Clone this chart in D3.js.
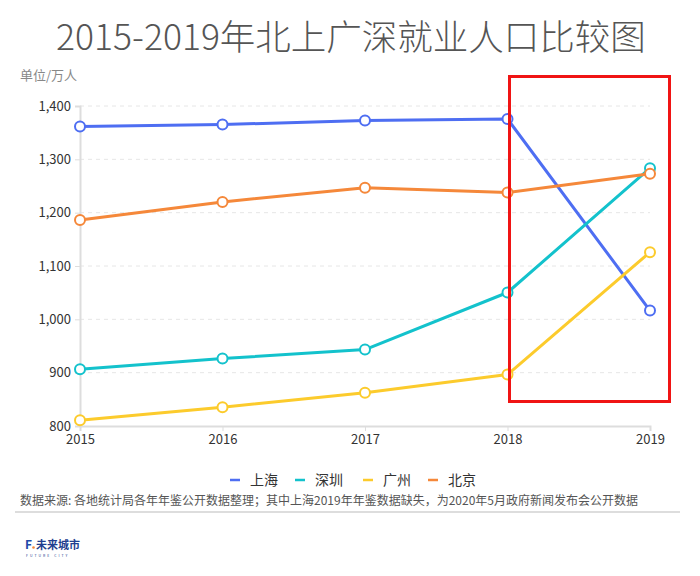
<!DOCTYPE html>
<html><head><meta charset="utf-8">
<script src="https://cdn.jsdelivr.net/npm/d3@7"></script>
<style>
body{margin:0;background:#fff;}
svg{display:block;font-family:"Noto Sans CJK SC","Noto Sans",sans-serif;}
</style></head>
<body>
<svg id="c" width="700" height="576"></svg>
<script>
const years = ["2015","2016","2017","2018","2019"];
const shanghai = [1361.5, 1365.2, 1372.7, 1375.7, 1016.4];
const shenzhen = [906.4, 926.4, 943.3, 1050.3, 1283.4];
const guangzhou = [811.0, 835.3, 862.3, 896.5, 1125.9];
const beijing = [1186.1, 1220.1, 1246.8, 1237.8, 1273.0];
const seriesNames = ["上海","深圳","广州","北京"];
const seriesColors = ["#4e6ef2","#13c2cc","#fccb2c","#f5883a"];
const yTicks = [800, 900, 1000, 1100, 1200, 1300, 1400];
const title = "2015-2019年北上广深就业人口比较图";
const unitLabel = "单位/万人";
const sourceNote = "数据来源: 各地统计局各年年鉴公开数据整理；其中上海2019年年鉴数据缺失，为2020年5月政府新闻发布会公开数据";

const series = [shanghai, shenzhen, guangzhou, beijing].map((v,i)=>({name:seriesNames[i], color:seriesColors[i], values:v}));

const svg = d3.select("#c");
const x = d3.scalePoint().domain(years).range([80, 650]);
const y = d3.scaleLinear().domain([800, 1400]).range([426, 106]);

svg.append("text").attr("x", 351).attr("y", 50).attr("text-anchor","middle")
  .attr("font-size", 35.5).attr("font-weight",300).attr("fill","#555").text(title);

svg.append("text").attr("x", 20).attr("y", 80).attr("font-size", 13).attr("fill","#888").text(unitLabel);

// grid
svg.append("g").selectAll("line").data(yTicks.filter(d=>d>800)).join("line")
  .attr("x1", 80).attr("x2", 650).attr("y1", d=>y(d)).attr("y2", d=>y(d))
  .attr("stroke","#e6e6e6").attr("stroke-dasharray","4,4");

// y axis
const yAxis = svg.append("g").attr("transform","translate(80,0)")
  .call(d3.axisLeft(y).tickValues(yTicks).tickFormat(d3.format(",")).tickSize(5).tickPadding(4));
yAxis.select(".domain").attr("stroke","#ddd").attr("stroke-width",2);
yAxis.selectAll(".tick line").attr("stroke","#ddd");
yAxis.selectAll("text").attr("font-size",13).attr("fill","#333").attr("font-family","'Noto Sans CJK SC',sans-serif");

// x axis
const xAxis = svg.append("g").attr("transform","translate(0,426)")
  .call(d3.axisBottom(x).tickSize(5).tickPadding(4));
xAxis.select(".domain").attr("stroke","#ddd").attr("stroke-width",2);
xAxis.selectAll(".tick line").attr("stroke","#ddd");
xAxis.selectAll("text").attr("font-size",13).attr("fill","#333").attr("font-family","'Noto Sans CJK SC',sans-serif");

const line = d3.line().x((d,i)=>x(years[i])).y(d=>y(d));
const g = svg.append("g");
series.forEach(s=>{
  g.append("path").attr("d", line(s.values)).attr("fill","none")
   .attr("stroke", s.color).attr("stroke-width", 3).attr("stroke-linejoin","round");
});
series.forEach(s=>{
  g.selectAll(null).data(s.values).join("circle")
   .attr("cx",(d,i)=>x(years[i])).attr("cy",d=>y(d)).attr("r",5)
   .attr("fill","#fff").attr("stroke",s.color).attr("stroke-width",2);
});

// red highlight box
svg.append("rect").attr("x",509.5).attr("y",76.5).attr("width",160).attr("height",325)
  .attr("fill","none").attr("stroke","#f01414").attr("stroke-width",3);

// legend
const legendX = [230, 295, 363, 428];
const lg = svg.append("g");
series.forEach((s,i)=>{
  lg.append("line").attr("x1",legendX[i]).attr("x2",legendX[i]+10).attr("y1",480).attr("y2",480)
    .attr("stroke",s.color).attr("stroke-width",2.5);
  lg.append("text").attr("x",legendX[i]+20).attr("y",485).attr("font-size",14).attr("fill","#333").text(s.name);
});

svg.append("text").attr("x",20).attr("y",505).attr("font-size",12).attr("fill","#555").text(sourceNote);
svg.append("line").attr("x1",15).attr("x2",680).attr("y1",512).attr("y2",512).attr("stroke","#ddd").attr("stroke-width",2);

// logo
const logo = svg.append("g").attr("transform","translate(25,549)");
logo.append("text").attr("x",0).attr("y",0).attr("font-size",12).attr("font-weight",700).attr("fill","#1f4aa8").text("F");
logo.append("circle").attr("cx",8.5).attr("cy",-1.5).attr("r",1.3).attr("fill","#f5883a");
logo.append("text").attr("x",11).attr("y",0).attr("font-size",11).attr("font-weight",700).attr("fill","#1f3f8f").text("未来城市");
logo.append("text").attr("x",1).attr("y",7.5).attr("font-size",3.5).attr("fill","#1f3f8f").attr("letter-spacing",2).text("FUTURE CITY");
</script>
</body></html>
